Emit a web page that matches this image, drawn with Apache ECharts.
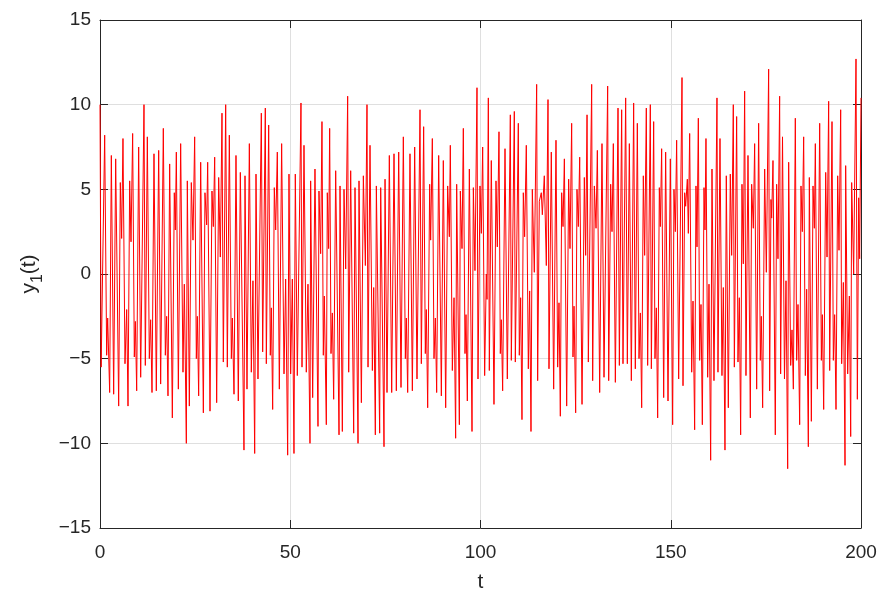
<!DOCTYPE html>
<html><head><meta charset="utf-8">
<script src="https://cdn.jsdelivr.net/npm/echarts@6/dist/echarts.min.js"></script>
<style>html,body{margin:0;padding:0;background:#fff}#c{width:893px;height:606px}</style>
</head><body><div id="c"></div>
<script>
const tValues = [
0,0.3,1.23,1.75,2.02,2.54,2.98,3.59,4.12,4.91,5.34,5.69,6.04,6.57,7.01,7.36,7.80,8.15,8.58,9.02,9.29,9.64,10.16,10.69,11.56,11.91,12.44,12.96,13.31,13.67,14.19,14.80,15.42,15.94,16.64,17.17,17.52,17.87,18.31,19.01,19.53,19.80,20.06,
20.59,21.20,21.81,22.16,22.69,22.95,23.48,24.00,24.44,24.88,25.32,25.58,25.93,26.46,27.16,27.59,28.03,28.30,28.91,29.43,29.78,30.14,30.66,31.19,31.62,32.06,32.41,33.03,33.46,33.99,34.52,34.78,35.22,35.74,36.35,36.88,37.84,38.11,38.63,39.25,39.77,40.20,
40.65,41.00,41.52,42.40,42.75,43.45,43.71,44.33,44.76,45.03,45.38,45.81,46.17,46.60,47.13,47.74,48.36,48.79,49.32,49.67,50.11,50.55,50.98,51.33,51.86,52.82,53.09,53.61,54.22,54.66,55.19,55.36,55.89,56.50,57.29,57.55,57.99,58.34,58.69,58.95,59.48,59.74,60.09,60.36,
60.71,61.06,61.41,61.94,62.82,63.08,63.69,64.13,64.57,65.09,65.36,65.88,66.67,67.02,67.81,68.07,68.69,69.21,69.74,70.17,70.44,70.96,71.58,71.93,72.36,72.63,73.50,73.77,74.64,74.91,75.43,76.04,76.66,77.27,77.88,78.50,79.11,79.72,80.25,
80.51,80.86,81.47,82.09,82.70,83.31,84.10,84.45,85.06,85.50,85.76,86.12,86.64,86.90,87.34,87.78,88.13,88.48,89.01,89.71,90.23,90.85,91.37,91.81,92.07,92.60,93.04,93.47,93.74,94.44,94.70,95.14,95.49,95.93,96.19,96.54,97.07,97.77,98.12,98.55,99.08,99.34,99.87,100.22,
100.57,101.09,101.53,101.71,102.06,102.32,102.84,103.54,104.07,104.42,104.86,105.21,105.47,105.82,106.44,107.05,107.84,108.10,108.89,109.15,109.94,110.20,110.55,110.90,111.25,111.60,112.04,112.57,112.92,113.27,113.62,114.14,114.76,115.02,115.46,115.72,115.98,116.25,116.77,117.30,117.74,118.00,118.61,119.23,119.84,
120.28,120.63,120.98,121.33,121.69,122.04,122.65,123.17,123.52,123.96,124.31,124.58,125.01,125.36,125.71,126.07,126.68,127.29,127.64,128.00,128.34,129.22,129.48,129.92,130.36,130.71,131.32,131.93,132.46,133.42,133.69,134.21,134.56,134.91,135.44,136.14,136.49,137.10,137.45,138.15,138.59,139.12,139.64,140.25,
140.69,141.22,141.66,142.01,142.36,142.79,143.14,143.58,143.93,144.63,144.90,145.51,145.86,146.21,146.56,147.00,147.26,147.61,148.14,148.66,149.28,149.89,150.50,150.85,151.20,151.55,152.08,152.96,153.22,153.66,153.92,154.36,154.62,154.97,155.50,155.85,156.28,156.63,156.90,157.25,157.60,157.95,158.30,158.74,159.00,159.26,159.70,
160.05,160.49,160.84,161.36,162.15,162.41,162.94,163.46,163.82,164.25,164.60,165.13,165.65,166.01,166.44,166.71,167.32,167.67,168.02,168.37,168.72,169.07,169.42,169.77,170.30,170.91,171.26,171.70,172.05,172.58,173.10,173.54,173.80,174.15,174.68,175.12,175.73,175.99,176.34,176.52,176.87,177.48,177.83,178.18,178.62,178.88,179.37,179.89,
180.29,180.73,180.99,181.52,181.87,182.22,182.74,183.09,183.44,183.88,184.23,184.58,184.93,185.37,185.72,186.16,186.42,186.95,187.39,187.74,188.00,188.53,189.14,189.58,189.84,190.19,190.72,191.07,191.50,191.77,192.38,192.73,193.08,193.43,193.87,194.22,194.66,194.92,195.36,195.80,195.97,196.50,196.94,197.29,197.55,198.07,198.69,199.04,199.39,199.65,200.0
];
const y1Values = [
10.0,-5.5,8.2,-4.8,-2.6,-7.0,7.0,-7.1,6.8,-7.8,5.4,2.1,8.0,-5.3,-2.1,-7.8,5.5,1.9,8.3,-4.9,-2.8,-6.9,7.5,-6.1,10.0,-5.4,8.1,-5.0,-2.7,-7.0,7.1,-6.9,7.3,-6.5,8.6,-4.8,-2.5,-7.2,6.5,-8.5,4.8,2.6,7.2,
-6.8,7.7,-5.8,-0.6,-10.0,5.5,-7.8,5.4,2.0,8.1,-5.0,-2.5,-7.2,6.6,-8.2,4.8,2.9,6.6,-8.1,4.9,2.8,6.9,-7.6,5.7,1.0,9.5,-5.2,10.0,-5.5,8.2,-5.0,-2.6,-7.1,7.0,-7.5,6.0,-10.4,5.8,-6.8,7.7,-5.8,-0.4,
-10.6,5.9,-6.2,9.5,-4.6,9.8,-5.3,8.8,-4.8,-2.0,-8.0,5.1,2.6,7.2,-6.8,7.7,-5.9,-0.3,-10.7,5.9,-5.9,-0.3,-10.6,5.9,-6.0,10.1,-5.5,7.6,-5.8,-0.6,-10.0,5.5,-7.3,6.2,-9.0,4.9,1.2,9.0,-4.8,-1.3,-8.9,4.8,1.5,8.6,
-4.7,-2.3,-7.4,6.1,-9.5,5.2,-9.3,5.0,0.3,10.5,-5.8,6.1,-9.4,5.1,-10.0,5.5,-7.6,5.8,0.5,10.0,-5.5,7.6,-5.7,-0.8,-9.5,5.2,-9.4,5.1,-10.2,5.6,-7.0,7.0,-7.0,7.1,-6.9,7.2,-6.7,8.1,-5.0,
-2.6,-7.0,7.1,-6.9,7.5,-6.2,9.7,-5.3,8.7,-4.7,-2.1,-7.9,5.3,2.0,8.0,-5.0,-2.6,-7.0,7.0,-7.2,6.7,-7.9,5.2,2.2,7.6,-5.7,-1.4,-9.7,5.3,-8.9,4.9,1.5,8.6,-4.7,-2.4,-7.5,6.2,-9.3,5.1,0.2,11.0,-6.2,5.2,2.4,
7.5,-6.0,0.0,-1.5,10.4,-5.7,6.7,-7.7,5.5,1.6,8.4,-4.7,-2.7,-6.9,7.4,-6.2,9.4,-5.1,9.6,-5.2,8.9,-4.8,-1.4,-8.6,4.8,2.2,7.6,-5.6,-1.0,-9.3,5.0,0.1,11.2,-6.3,4.3,4.4,4.8,3.5,5.8,0.5,10.3,-5.6,7.2,-6.8,7.9,
-5.5,-1.7,-8.4,4.8,2.8,6.8,-7.8,5.6,1.5,8.9,-4.9,-1.9,-8.2,5.0,2.8,6.9,-7.7,5.7,1.1,9.4,-5.2,11.2,-6.3,5.2,2.7,7.3,-7.0,7.7,-6.1,11.1,-6.3,5.3,2.5,7.7,-6.4,9.8,-5.4,9.7,-5.3,10.4,-5.3,7.7,-6.3,10.1,
-5.6,8.9,-5.0,-2.3,-7.9,5.8,1.1,9.8,-5.4,10.0,-5.6,9.0,-5.0,-2.0,-8.5,5.1,2.8,7.4,-7.3,7.2,-7.5,6.8,-8.9,5.0,2.5,7.9,-6.2,11.6,-6.6,4.8,4.0,5.6,2.4,8.3,-5.8,-1.6,-9.2,5.2,1.6,9.2,-5.1,-1.8,-8.9,5.1,2.6,8.0,-6.1,
-0.6,-11.0,6.2,-6.3,10.4,-5.8,8.0,-6.0,-0.8,-10.4,5.8,-7.9,5.9,1.1,10.0,-5.5,9.3,-5.2,-1.4,-9.5,5.3,0.6,10.8,-6.0,7.0,-8.5,5.3,2.7,7.7,-6.8,8.9,-5.1,-2.5,-7.9,6.2,0.1,12.1,-6.9,4.4,3.3,6.7,-9.5,5.3,0.9,10.5,-5.9,8.1,-6.2,
-0.4,-11.5,6.6,-5.4,-3.3,-6.8,9.2,-5.1,-1.8,-8.9,5.2,2.5,8.1,-6.0,-0.9,-10.2,5.7,-8.7,5.2,2.7,7.7,-6.8,8.9,-5.1,-2.4,-8.0,6.0,1.0,10.2,-5.7,9.0,-5.1,-2.4,-8.0,5.8,1.4,9.7,-5.3,-0.5,-11.3,6.4,-5.9,-1.3,-9.6,5.4,0.0,12.7,-7.4,4.5,0.9,10.4
];
const xTickValues = [0, 50, 100, 150, 200];
const yTickValues = [-15, -10, -5, 0, 5, 10, 15];

const seriesData = tValues.map((t, i) => [t, y1Values[i]]);
const axisColor = '#262626';
const font = 'Liberation Sans, Arial, sans-serif';
const fmt = v => (v < 0 ? '\u2212' + Math.abs(v) : String(v));

const chart = echarts.init(document.getElementById('c'), null, {renderer: 'canvas'});
const baseX = {
  type: 'value', min: xTickValues[0], max: xTickValues[xTickValues.length - 1], interval: 50,
  axisLine: {show: true, onZero: false, lineStyle: {color: axisColor, width: 1}},
  axisTick: {show: true, inside: true, length: 8, lineStyle: {color: axisColor}}
};
const baseY = {
  type: 'value', min: yTickValues[0], max: yTickValues[yTickValues.length - 1], interval: 5,
  axisLine: {show: true, onZero: false, lineStyle: {color: axisColor, width: 1}},
  axisTick: {show: true, inside: true, length: 8, lineStyle: {color: axisColor}}
};
chart.setOption({
  animation: false,
  backgroundColor: '#fff',
  grid: {left: 100, right: 32, top: 20, bottom: 78, show: false},
  xAxis: [
    Object.assign({}, baseX, {
      position: 'bottom',
      axisLabel: {fontSize: 19, color: axisColor, margin: 15, fontFamily: font, formatter: fmt},
      splitLine: {show: true, lineStyle: {color: '#dfdfdf', width: 1}},
      name: 't', nameLocation: 'middle', nameGap: 44,
      nameTextStyle: {fontSize: 21, color: axisColor, fontFamily: font}
    }),
    Object.assign({}, baseX, {
      position: 'top', axisLabel: {show: false}, splitLine: {show: false}
    })
  ],
  yAxis: [
    Object.assign({}, baseY, {
      position: 'left',
      axisLabel: {fontSize: 19, color: axisColor, margin: 9, fontFamily: font, formatter: fmt},
      splitLine: {show: true, lineStyle: {color: '#dfdfdf', width: 1}},
      name: '{a|y}{s|1}{a|(t)}', nameLocation: 'middle', nameGap: 60,
      nameTextStyle: {
        color: axisColor, fontFamily: font,
        rich: {
          a: {fontSize: 21, color: axisColor, fontFamily: font, verticalAlign: 'bottom', lineHeight: 24},
          s: {fontSize: 16, color: axisColor, fontFamily: font, verticalAlign: 'bottom', lineHeight: 24, padding: [0, 0, -6, 0]}
        }
      }
    }),
    Object.assign({}, baseY, {
      position: 'right', axisLabel: {show: false}, splitLine: {show: false}
    })
  ],
  series: [{
    type: 'line', xAxisIndex: 0, yAxisIndex: 0,
    data: seriesData, showSymbol: false, symbol: 'none',
    lineStyle: {color: '#ff0000', width: 1},
    itemStyle: {color: '#ff0000'},
    clip: true
  }]
});
</script>
</body></html>
